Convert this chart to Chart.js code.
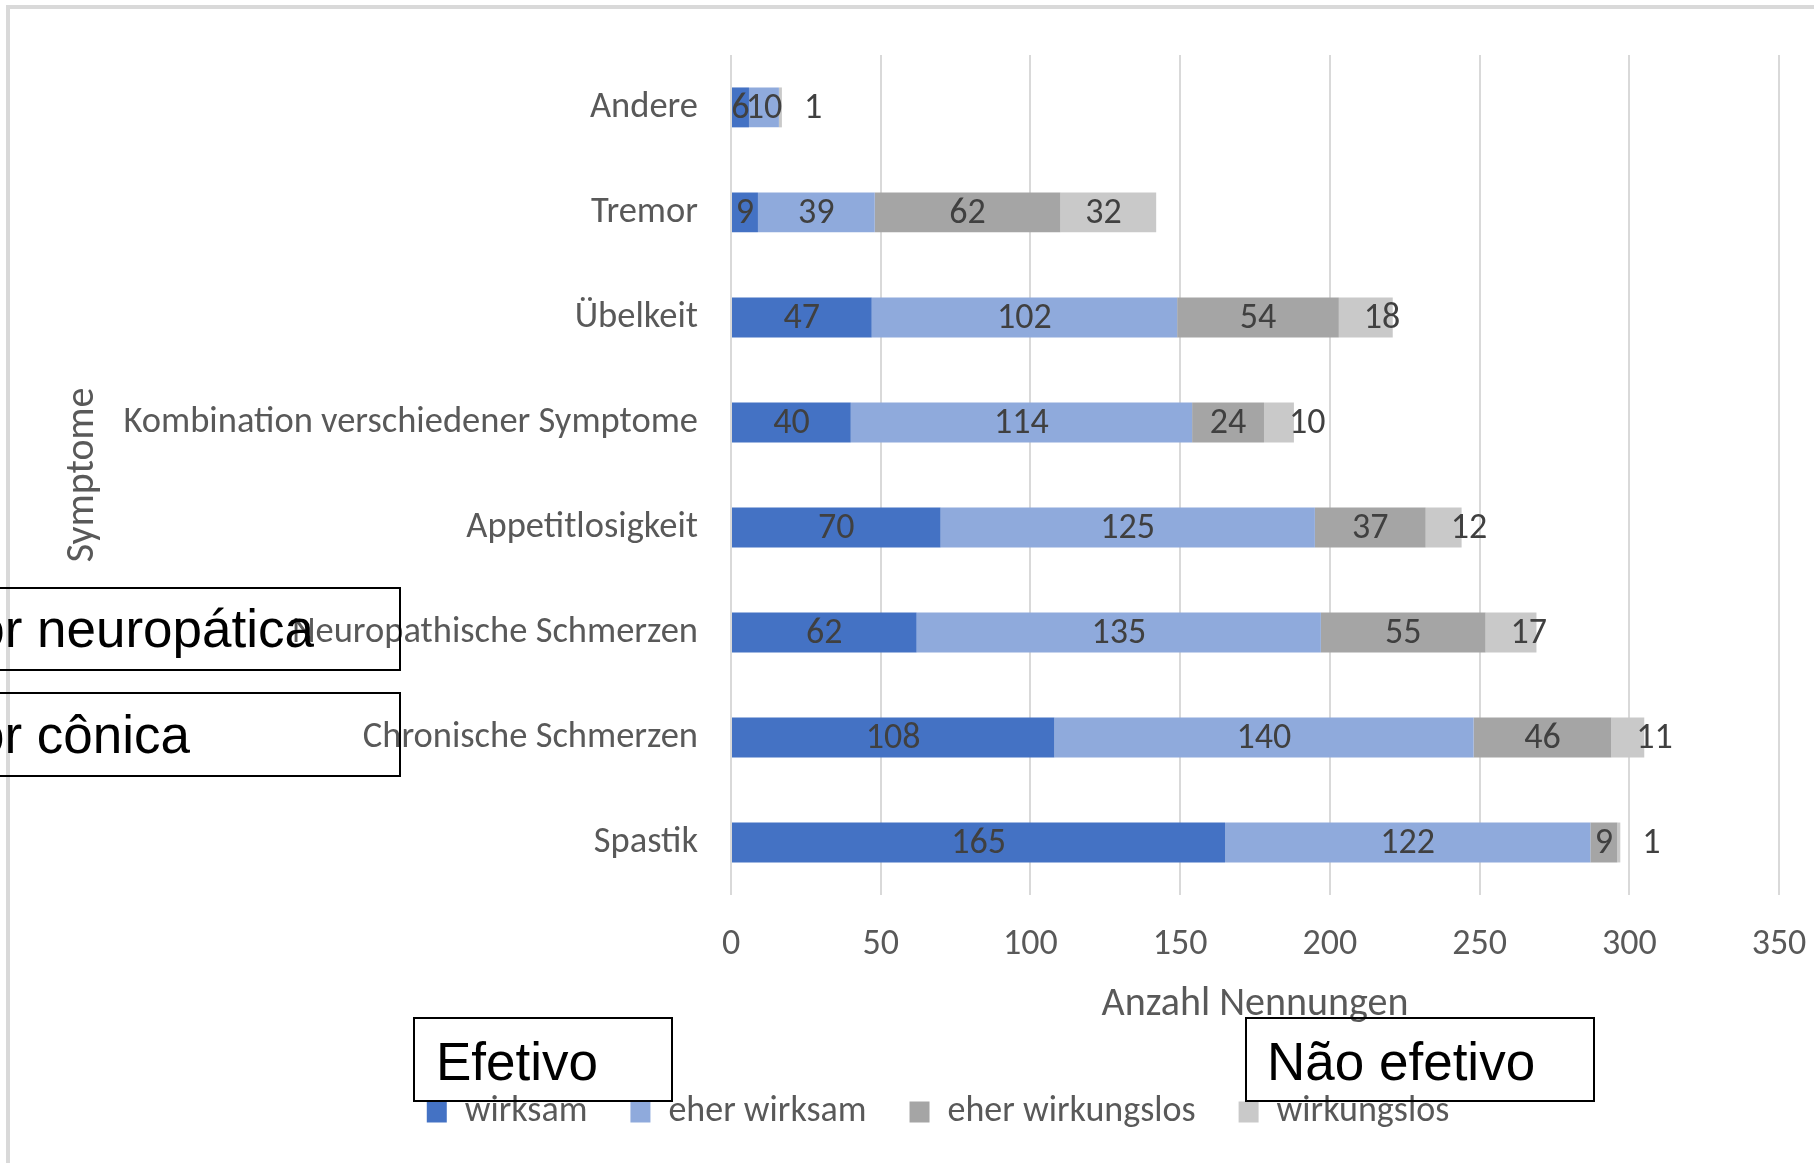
<!DOCTYPE html>
<html>
<head>
<meta charset="utf-8">
<script src="https://cdn.jsdelivr.net/npm/chart.js@4/dist/chart.umd.min.js"></script>
<style>
html,body{margin:0;padding:0;overflow:hidden;background:#ffffff;width:1814px;height:1163px}
canvas{display:block}
</style>
</head>
<body>
<canvas id="c" width="1876" height="1163" style="width:1876px;height:1163px"></canvas>
<script>
// ---- data ----
const categories = ['Andere', 'Tremor', 'Übelkeit', 'Kombination verschiedener Symptome', 'Appetitlosigkeit', 'Neuropathische Schmerzen', 'Chronische Schmerzen', 'Spastik'];
const seriesNames = ['wirksam', 'eher wirksam', 'eher wirkungslos', 'wirkungslos'];
const wirksam         = [6, 9, 47, 40, 70, 62, 108, 165];
const eherWirksam     = [10, 39, 102, 114, 125, 135, 140, 122];
const eherWirkungslos = [0, 62, 54, 24, 37, 55, 46, 9];
const wirkungslos     = [1, 32, 18, 10, 12, 17, 11, 1];
const xTicks = [0, 50, 100, 150, 200, 250, 300, 350];
const xTitle = 'Anzahl Nennungen';
const yTitle = 'Symptome';
const noteTexts = ['Dor neuropática', 'Dor cônica', 'Efetivo', 'Não efetivo'];

// ---- fonts ----
function hasFont(f) {
  const c = document.createElement('canvas').getContext('2d');
  const s = 'Kombination wirksam 0123456789';
  c.font = '40px monospace';
  const a = c.measureText(s).width;
  c.font = "40px '" + f + "', monospace";
  return Math.abs(c.measureText(s).width - a) > 0.5;
}
const FAM = hasFont('Carlito') ? "'Carlito'" : "'Lato'";
const SZ = 36;

const colors = ['#4472C4', '#8FAADC', '#A5A5A5', '#C9C9C9'];
const seriesData = [wirksam, eherWirksam, eherWirkungslos, wirkungslos];

const framePlugin = {
  id: 'frame',
  beforeDraw(chart) {
    const ctx = chart.ctx;
    ctx.save();
    ctx.fillStyle = '#ffffff';
    ctx.fillRect(0, 0, chart.width, chart.height);
    ctx.strokeStyle = '#d9d9d9';
    ctx.lineWidth = 4;
    ctx.beginPath();
    ctx.moveTo(8, 1200);
    ctx.lineTo(8, 7);
    ctx.lineTo(1900, 7);
    ctx.stroke();
    ctx.restore();
  }
};

const labelPlugin = {
  id: 'segLabels',
  afterDatasetsDraw(chart) {
    const ctx = chart.ctx;
    ctx.save();
    ctx.font = SZ + 'px ' + FAM;
    ctx.fillStyle = '#404040';
    ctx.textBaseline = 'middle';
    const n = chart.data.datasets.length;
    chart.data.datasets.forEach((ds, i) => {
      const meta = chart.getDatasetMeta(i);
      if (meta.hidden) return;
      meta.data.forEach((bar, j) => {
        const v = ds.data[j];
        if (!v) return;
        if (i === n - 1) {
          ctx.textAlign = 'left';
          ctx.fillText(String(v), Math.min(bar.base, bar.x) + 25, bar.y + 2);
        } else {
          ctx.textAlign = 'center';
          ctx.fillText(String(v), (bar.x + bar.base) / 2, bar.y + 2);
        }
      });
    });
    ctx.restore();
  }
};

const notePlugin = {
  id: 'notes',
  afterDraw(chart) {
    const ctx = chart.ctx;
    ctx.save();
    ctx.strokeStyle = '#000000';
    ctx.lineWidth = 2;
    const boxes = [
      {x: -20, y: 588, w: 420, h: 82},
      {x: -20, y: 693, w: 420, h: 83},
      {x: 414, y: 1018, w: 258, h: 83},
      {x: 1246, y: 1018, w: 348, h: 83}
    ];
    boxes.forEach(b => ctx.strokeRect(b.x, b.y, b.w, b.h));
    ctx.fillStyle = '#000000';
    ctx.font = "53px 'Liberation Sans', Arial, sans-serif";
    ctx.textBaseline = 'alphabetic';
    ctx.textAlign = 'right';
    ctx.fillText(noteTexts[0], 314, 647);
    ctx.fillText(noteTexts[1], 190, 753);
    ctx.textAlign = 'left';
    ctx.fillText(noteTexts[2], 436, 1080);
    ctx.fillText(noteTexts[3], 1267, 1080);
    ctx.restore();
  }
};

new Chart(document.getElementById('c'), {
  type: 'bar',
  data: {
    labels: categories,
    datasets: seriesNames.map((name, i) => ({
      label: name,
      data: seriesData[i],
      backgroundColor: colors[i],
      borderWidth: 0,
      barPercentage: 0.95,
      categoryPercentage: 0.4
    }))
  },
  options: {
    indexAxis: 'y',
    responsive: false,
    animation: false,
    devicePixelRatio: 1,
    layout: {padding: {top: 51, left: 0, right: 0, bottom: 23}},
    plugins: {
      tooltip: {enabled: false},
      legend: {
        position: 'bottom',
        labels: {
          color: '#595959',
          font: {family: FAM, size: SZ},
          boxWidth: 20,
          boxHeight: 21,
          padding: 43
        }
      }
    },
    scales: {
      x: {
        stacked: true,
        min: 0,
        max: 350,
        afterBuildTicks: s => { s.ticks = xTicks.map(v => ({value: v})); },
        grid: {color: '#d9d9d9', lineWidth: 2, drawTicks: false},
        border: {display: false},
        ticks: {color: '#595959', font: {family: FAM, size: SZ}, padding: 28},
        title: {display: true, text: xTitle, color: '#595959', font: {family: FAM, size: 40}, padding: {top: 0, bottom: 22}},
        afterFit: s => { s.height = 156; }
      },
      y: {
        stacked: true,
        grid: {display: false, drawTicks: false},
        border: {display: false},
        ticks: {color: '#595959', font: {family: FAM, size: 36.5}, padding: 33, autoSkip: false},
        title: {display: true, text: yTitle, color: '#595959', font: {family: FAM, size: 40}, padding: {top: 59, bottom: 0}},
        afterFit: s => { s.width = 731; }
      },
      yPad: {
        type: 'category',
        position: 'right',
        display: true,
        grid: {display: false, drawTicks: false},
        border: {display: false},
        ticks: {display: false},
        afterFit: s => { s.width = 97; }
      }
    }
  },
  plugins: [framePlugin, labelPlugin, notePlugin]
});
</script>
</body>
</html>
